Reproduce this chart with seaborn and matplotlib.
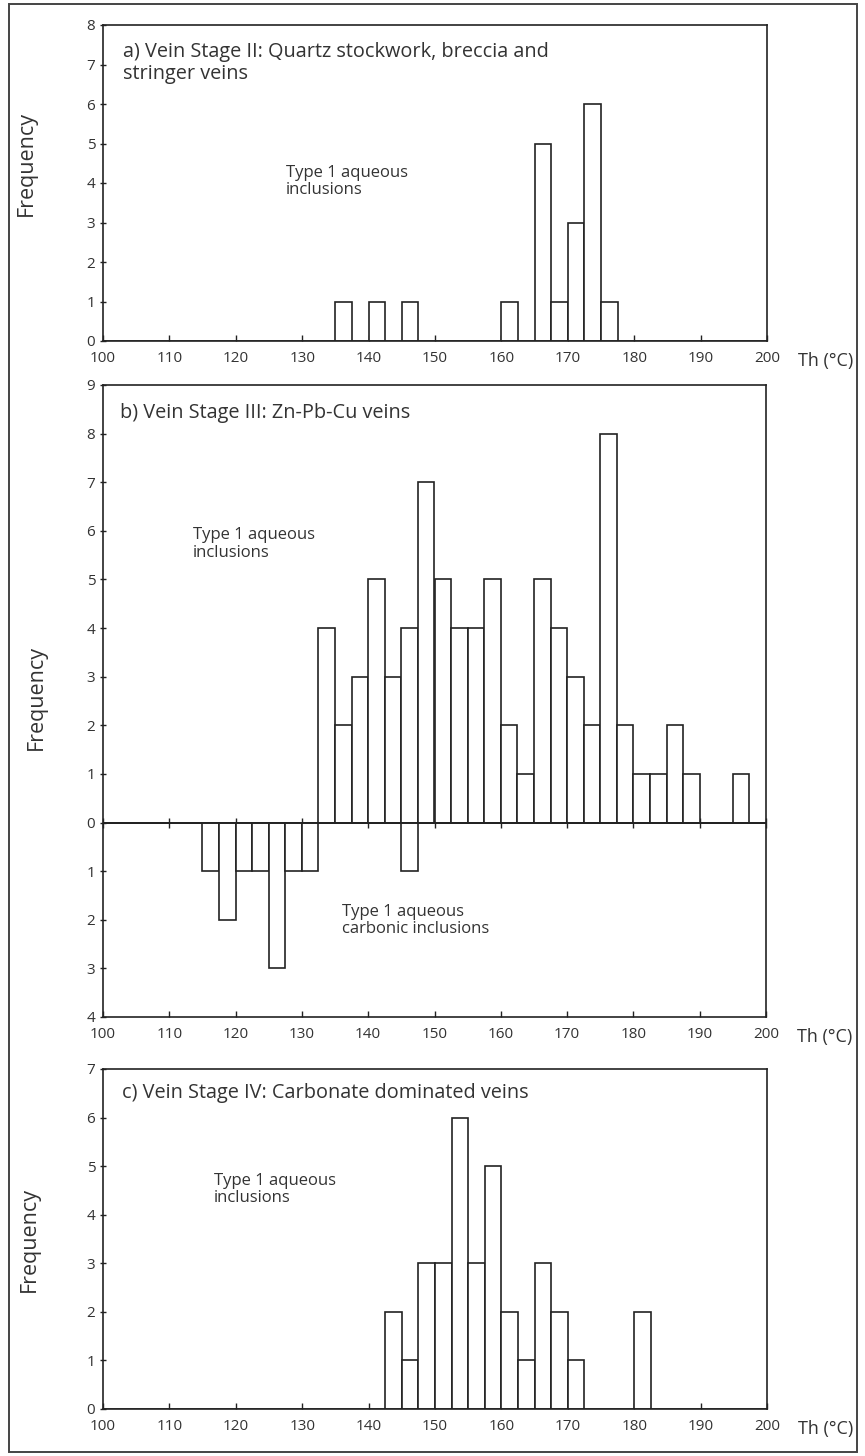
import numpy as np
import pandas as pd
import matplotlib
matplotlib.use("Agg")
import matplotlib.pyplot as plt
import seaborn as sns
from matplotlib.patches import Rectangle

# ---- data (bin lower edges in degC, bin width 2.5) ----
a_bin_lo = [135, 140, 145, 160, 165, 167.5, 170, 172.5, 175]
a_counts = [1, 1, 1, 1, 5, 1, 3, 6, 1]

b_bin_lo = [132.5, 135, 137.5, 140, 142.5, 145, 147.5, 150, 152.5, 155, 157.5,
            160, 162.5, 165, 167.5, 170, 172.5, 175, 177.5, 180, 182.5, 185,
            187.5, 195]
b_counts = [4, 2, 3, 5, 3, 4, 7, 5, 4, 4, 5, 2, 1, 5, 4, 3, 2, 8, 2, 1, 1, 2, 1, 1]

b_carb_bin_lo = [115, 117.5, 120, 122.5, 125, 127.5, 130, 145]
b_carb_counts = [1, 2, 1, 1, 3, 1, 1, 1]

c_bin_lo = [142.5, 145, 147.5, 150, 152.5, 155, 157.5, 160, 162.5, 165, 167.5,
            170, 180]
c_counts = [2, 1, 3, 3, 6, 3, 5, 2, 1, 3, 2, 1, 2]

x_ticks = [100, 110, 120, 130, 140, 150, 160, 170, 180, 190, 200]
bin_width = 2.5

titles = ["a) Vein Stage II: Quartz stockwork, breccia and\nstringer veins",
          "b) Vein Stage III: Zn-Pb-Cu veins",
          "c) Vein Stage IV: Carbonate dominated veins"]

sns.set_theme(style="white")
plt.rcParams['font.family'] = ['Open Sans', 'DejaVu Sans']
TXT = "#333333"
LINE = "#222222"

W, H = 865, 1456
fig = plt.figure(figsize=(W / 100, H / 100), dpi=100)

def ax_rect(left, top, right, bottom):
    return [left / W, 1 - bottom / H, (right - left) / W, (bottom - top) / H]

ax_a = fig.add_axes(ax_rect(103, 25, 767, 341))
ax_b = fig.add_axes(ax_rect(103, 385, 766, 1017))
ax_c = fig.add_axes(ax_rect(103, 1069, 767, 1409))

def draw_hist(ax, lo, counts, sign=1):
    df = pd.DataFrame({"x": np.array(lo, dtype=float) + bin_width / 2,
                       "w": sign * np.array(counts, dtype=float)})
    sns.histplot(data=df, x="x", weights="w", binwidth=bin_width,
                 binrange=(100, 200), ax=ax,
                 color="white", edgecolor=LINE, linewidth=1.2, alpha=1.0)

def style_axes(ax, ymin, ymax):
    ax.set_xlim(100, 200)
    ax.set_ylim(ymin, ymax)
    ax.set_xticks(x_ticks)
    ax.set_xticklabels([str(t) for t in x_ticks])
    yt = list(range(ymin, ymax + 1))
    ax.set_yticks(yt)
    ax.set_yticklabels([str(abs(t)) for t in yt])
    ax.tick_params(axis="x", direction="in", length=4, width=1.0, colors=LINE,
                   labelsize=11, labelcolor=TXT, pad=7, bottom=True)
    ax.tick_params(axis="y", direction="inout", length=5, width=1.0, colors=LINE,
                   labelsize=11, labelcolor=TXT, pad=3, left=True)
    for s in ax.spines.values():
        s.set_visible(True)
        s.set_color(LINE)
        s.set_linewidth(1.2)
    ax.set_xlabel("")
    ax.set_ylabel("Frequency", fontsize=15.5, color=TXT)

# panel a
draw_hist(ax_a, a_bin_lo, a_counts)
style_axes(ax_a, 0, 8)
ax_a.yaxis.set_label_coords(-0.099, 0.563)

# panel b
draw_hist(ax_b, b_bin_lo, b_counts)
draw_hist(ax_b, b_carb_bin_lo, b_carb_counts, sign=-1)
style_axes(ax_b, -4, 9)
ax_b.yaxis.set_label_coords(-0.085, 0.506)
ax_b.axhline(0, color=LINE, linewidth=1.2, zorder=5)
sec = ax_b.secondary_xaxis(4 / 13)
sec.set_xticks(x_ticks)
sec.tick_params(axis="x", direction="inout", length=7, width=1.0, colors=LINE,
                labelbottom=False, labeltop=False)
for s in sec.spines.values():
    s.set_visible(False)

# panel c
draw_hist(ax_c, c_bin_lo, c_counts)
style_axes(ax_c, 0, 7)
ax_c.yaxis.set_label_coords(-0.095, 0.5)

# x-axis unit labels
for ax in (ax_a, ax_b, ax_c):
    ax.annotate("Th (\u00b0C)", xy=(1.0, 0), xycoords="axes fraction",
                xytext=(42, -14.5), textcoords="offset points",
                ha="center", va="center", fontsize=13, color=TXT)

# panel titles and annotations
tkw = dict(fontsize=14.3, color=TXT, va="top", ha="left", linespacing=1.1)
ax_a.text(0.03, 0.946, titles[0], transform=ax_a.transAxes, **tkw)
ax_b.text(0.026, 0.972, titles[1], transform=ax_b.transAxes, **tkw)
ax_c.text(0.029, 0.959, titles[2], transform=ax_c.transAxes, **tkw)

akw = dict(fontsize=12, color=TXT, va="top", ha="left", linespacing=1.1)
ax_a.text(127.5, 4.46, "Type 1 aqueous\ninclusions", **akw)
ax_b.text(113.5, 6.07, "Type 1 aqueous\ninclusions", **akw)
ax_b.text(136.1, -1.67, "Type 1 aqueous\ncarbonic inclusions", **akw)
ax_c.text(116.7, 4.86, "Type 1 aqueous\ninclusions", **akw)

# outer border
fig.patches.append(Rectangle((9 / W, 4 / H), (857 - 9) / W, (1452 - 4) / H,
                             transform=fig.transFigure, fill=False,
                             edgecolor="#444444", linewidth=1.4))

fig.savefig("out.png", dpi=100, facecolor="white")
